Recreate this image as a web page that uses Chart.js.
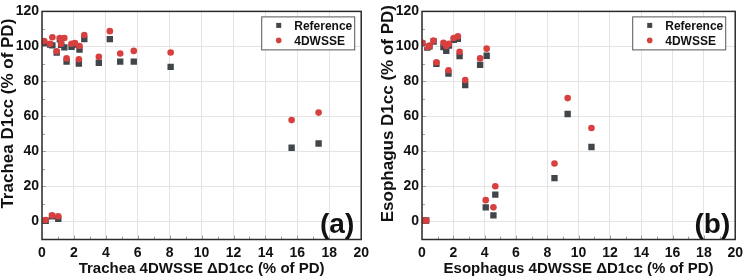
<!DOCTYPE html>
<html>
<head>
<meta charset="utf-8">
<script src="https://cdn.jsdelivr.net/npm/chart.js@4/dist/chart.umd.min.js"></script>
<style>
    html, body { margin: 0; padding: 0; background: #fff; }
    #wrap { position: relative; width: 748px; height: 278px; }
    .panel { position: absolute; top: 0; width: 374px; height: 278px; }
</style>
</head>
<body>
<div id="wrap">
    <div class="panel" style="left:0"><canvas id="tracheaChart" width="374" height="278"></canvas></div>
    <div class="panel" style="left:374px"><canvas id="esophagusChart" width="374" height="278"></canvas></div>
</div>
<script>
// trachea: x = 4DWSSE dD1cc, y = D1cc for each plan
const tracheaDelta = [0.13, 0.5, 0.65, 0.92, 1.12, 1.2, 1.4, 1.54, 1.85, 2.06, 2.31, 2.35, 2.65, 3.56, 4.25, 4.9, 5.75, 8.06, 15.64, 17.33, 0.23, 0.63, 1.02];
const tracheaRef = [102, 101, 100.6, 96.5, 104, 100.9, 99.4, 91.3, 99.8, 101, 90.2, 98.1, 104.1, 90.6, 104.1, 91.3, 91.3, 88.3, 42, 44.4, 0.2, 2.8, 1.3];
const tracheaWsse = [103, 101.5, 105.2, 97.2, 104.8, 101.5, 104.8, 93.1, 101.5, 101.9, 92.6, 100.2, 106.5, 94, 108.7, 95.9, 97.4, 96.5, 57.8, 62.1, 0.6, 3.3, 2.8];

// esophagus
const esophagusDelta = [0.02, 0.34, 0.48, 0.74, 0.92, 1.37, 1.55, 1.69, 1.72, 2.03, 2.29, 2.4, 2.76, 3.71, 4.13, 9.3, 10.82, 0.13, 0.27, 4.07, 4.56, 4.68, 8.46];
const esophagusRef = [101.5, 99.3, 100, 102.8, 90, 99.6, 97.4, 84.4, 100.5, 103.7, 104.3, 94.4, 77.9, 89.4, 94.6, 61.3, 42.4, 0.3, 0.4, 7.9, 3.3, 15.2, 24.6];
const esophagusWsse = [102, 99.6, 100.4, 103.3, 90.9, 102, 100.2, 86.3, 101.5, 104.8, 105.7, 96.9, 80.7, 93.1, 98.7, 70.4, 53.3, 0.4, 0.4, 12, 7.9, 20, 33];

const yTicks = [0, 20, 40, 60, 80, 100, 120];
const seriesNames = ['Reference', '4DWSSE'];

const grayColor = '#41464b';
const redColor = '#d8403f';
const fontFamily = '"Liberation Sans", Arial, sans-serif';

function toPoints(xs, ys) {
    return xs.map((x, i) => ({ x: x, y: ys[i] }));
}

// frame, inward minor ticks, inset legend and panel letter
const decorPlugin = {
    id: 'decor',
    afterDraw(chart, args, opts) {
        const { ctx, chartArea: a, scales } = chart;
        ctx.save();

        ctx.strokeStyle = '#a0a0a0';
        ctx.lineWidth = 1;
        ctx.beginPath();
        for (let v = 1; v < 20; v++) {
            const px = Math.round(scales.x.getPixelForValue(v)) + 0.5;
            const len = v % 2 === 0 ? 4 : 3;
            ctx.moveTo(px, a.bottom); ctx.lineTo(px, a.bottom - len);
        }
        for (let v = 10; v < 120; v += 10) {
            const py = Math.round(scales.y.getPixelForValue(v)) + 0.5;
            const len = v % 20 === 0 ? 4 : 3;
            ctx.moveTo(a.left, py); ctx.lineTo(a.left + len, py);
        }
        ctx.stroke();

        ctx.strokeStyle = '#2b2b2b';
        ctx.lineWidth = 1.5;
        ctx.strokeRect(a.left, a.top, a.right - a.left, a.bottom - a.top);

        // legend box
        const bw = 93, bh = 33;
        const bx = a.right - opts.legendRight - bw;
        const by = a.top + 5;
        ctx.fillStyle = '#fff';
        ctx.fillRect(bx, by, bw, bh);
        ctx.strokeStyle = '#555';
        ctx.lineWidth = 1;
        ctx.strokeRect(bx + 0.5, by + 0.5, bw, bh);

        ctx.font = 'bold 12px ' + fontFamily;
        ctx.textBaseline = 'middle';
        chart.data.datasets.forEach((ds, i) => {
            const cy = by + 9 + i * 15;
            ctx.fillStyle = ds.backgroundColor;
            if (ds.pointStyle === 'rect') {
                ctx.fillRect(bx + 15, cy - 2.5, 5, 5);
            } else {
                ctx.beginPath();
                ctx.arc(bx + 17.5, cy, 2.8, 0, Math.PI * 2);
                ctx.fill();
            }
            ctx.fillStyle = '#111';
            ctx.fillText(ds.label, bx + 33, cy + 1);
        });

        ctx.font = 'bold 28px ' + fontFamily;
        ctx.textAlign = 'right';
        ctx.textBaseline = 'alphabetic';
        ctx.fillStyle = '#111';
        ctx.fillText(opts.letter, a.right - opts.letterRight, a.bottom - 7);
        ctx.restore();
    }
};

function makeChart(canvasId, xs, refs, wsse, xTitle, yTitle, cfg) {
    return new Chart(document.getElementById(canvasId), {
        type: 'scatter',
        data: {
            datasets: [{
                label: seriesNames[0],
                data: toPoints(xs, refs),
                pointStyle: 'rect',
                pointRadius: 4.5,
                backgroundColor: grayColor,
                borderWidth: 0,
                order: 2
            }, {
                label: seriesNames[1],
                data: toPoints(xs, wsse),
                pointStyle: 'circle',
                pointRadius: 3.3,
                backgroundColor: redColor,
                borderWidth: 0,
                order: 1
            }]
        },
        options: {
            responsive: false,
            animation: false,
            events: [],
            layout: { padding: { top: 5, left: cfg.padLeft, right: cfg.padRight, bottom: 0 } },
            plugins: {
                legend: { display: false },
                tooltip: { enabled: false },
                decor: cfg.decor
            },
            scales: {
                x: {
                    type: 'linear',
                    min: 0,
                    max: 20,
                    border: { display: false },
                    grid: { color: '#e4e4e4', drawTicks: false },
                    ticks: {
                        stepSize: 2,
                        padding: 5,
                        color: '#111',
                        font: { family: fontFamily, size: 14, weight: 'bold' }
                    },
                    title: {
                        display: true,
                        text: xTitle,
                        color: '#111',
                        padding: 0,
                        font: { family: fontFamily, size: 15, weight: 'bold', lineHeight: 1.2 }
                    },
                    afterFit: function (scale) { scale.height = 38.5; }
                },
                y: {
                    type: 'linear',
                    min: -10.5,
                    max: 120,
                    border: { display: false },
                    grid: { color: '#e4e4e4', drawTicks: false },
                    afterBuildTicks: function (scale) {
                        scale.ticks = yTicks.map(v => ({ value: v }));
                    },
                    ticks: {
                        padding: 3,
                        color: '#111',
                        font: { family: fontFamily, size: 14, weight: 'bold' }
                    },
                    title: {
                        display: true,
                        text: '     ' + yTitle,
                        color: '#111',
                        padding: 0,
                        font: { family: fontFamily, size: 17, weight: 'bold', lineHeight: 1 }
                    },
                    afterFit: function (scale) { scale.width = 42; }
                }
            }
        },
        plugins: [decorPlugin]
    });
}

makeChart('tracheaChart', tracheaDelta, tracheaRef, tracheaWsse,
    'Trachea 4DWSSE \u0394D1cc (% of PD)', 'Trachea D1cc (% of PD)',
    { padLeft: 0, padRight: 12, decor: { letter: '(a)', letterRight: 7, legendRight: 7 } });

makeChart('esophagusChart', esophagusDelta, esophagusRef, esophagusWsse,
    'Esophagus 4DWSSE \u0394D1cc (% of PD)', 'Esophagus D1cc (% of PD)',
    { padLeft: 6, padRight: 8, decor: { letter: '(b)', letterRight: 5, legendRight: 10 } });
</script>
</body>
</html>
